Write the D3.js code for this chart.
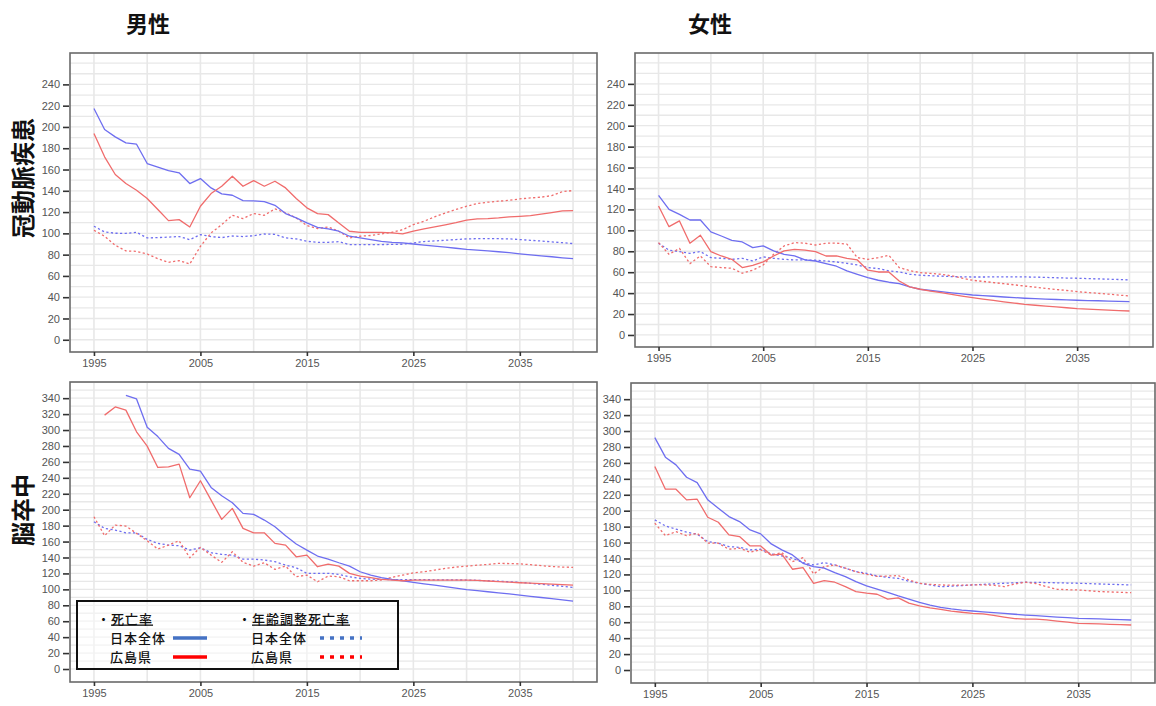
<!DOCTYPE html>
<html>
<head>
<meta charset="utf-8">
<script src="https://cdn.jsdelivr.net/npm/d3@7"></script>
<style>
  body { margin: 0; background: #fff; }
  svg { display: block; }
  .tick text { font-family: "Liberation Sans", Arial, sans-serif; font-size: 11px; fill: #555; }
  .tick line { stroke: #333; stroke-width: 1.6; }
</style>
</head>
<body>
<svg id="chart" width="1156" height="706"></svg>
<script>
// ---- data -------------------------------------------------------------
const years = d3.range(1995, 2041);
const xTickYears = [1995, 2005, 2015, 2025, 2035];
const chdTicks = d3.range(0, 241, 20);
const strokeTicks = d3.range(0, 341, 20);
const sexLabels = ["男性", "女性"];
const diseaseLabels = ["冠動脈疾患", "脳卒中"];
const legendHeads = ["死亡率", "年齢調整死亡率"];
const areaNames = ["日本全体", "広島県"];

// 冠動脈疾患・男性
const chdMaleJapanCrude = [217.4,197.6,190.7,185,183.8,165.6,162.2,159,156.9,146.8,
  151.5,142.7,137.1,135.8,130.8,130.5,129.9,126.4,118.6,114.5,
  109.8,105.7,104.2,102,97.3,95.7,94.1,92.5,91.6,91,
  90,89,88,87,86,85,84.3,83.5,82.7,81.8,
  80.8,79.8,78.9,78,77,76.2];
const chdMaleHiroCrude = [193.9,171.9,155.3,146.8,140.5,132.7,122.4,112,112.9,106,
  125.5,137.4,144.3,153.7,144.3,149.6,144.3,149,142.7,132.7,
  124,118.6,117.6,109.8,102,101,101,101,100.5,99.5,
  102,104.2,106,108,110,112.5,113.6,113.8,114.5,115.5,
  116,116.7,118,119.5,121.2,121.4];
const chdMaleJapanAdj = [106.7,101.3,100.1,100,101,95.7,96,96.5,97,94.1,
  98.8,97,96,97.5,97,97.8,99.4,99.1,95.7,94.8,
  92.5,91.6,91.6,92.2,89.4,89.4,89.4,89.5,89.6,89.8,
  91,92.3,92.9,93.5,94.2,94.8,95,95,95,94.8,
  94.2,93.5,92.8,92,91.2,90.4];
const chdMaleHiroAdj = [102.9,97.3,88.8,83.5,83.1,80.6,76.2,72.8,74.4,71.2,
  87.8,100.4,108.2,117,113.9,118.6,117,123,119.2,114.5,
  107.3,104.5,106,102,95.7,97.3,98,99.5,101,103.5,
  108.2,111.4,115.5,119.2,122.4,125.5,128,129.3,130.2,131,
  132.4,133.3,134,135.5,139.2,140.2];

// 冠動脈疾患・女性
const chdFemaleJapanCrude = [133.5,120.1,115.3,109.9,109.9,98.5,94.6,90.5,88.9,83.5,
  85.1,80.3,77.1,75.5,71.7,70.7,68.2,65.7,61.2,58,
  54.8,52.3,50.4,49,46,43.7,42.5,41.4,40.2,39.2,
  38.2,37.6,37,36.3,35.7,35.1,34.7,34.3,33.9,33.6,
  33.2,32.9,32.7,32.4,32.1,31.9];
const chdFemaleHiroCrude = [123.3,103.5,109,87.7,95.3,79.7,75.5,72.3,64.4,66.6,
  69.8,75.5,80.3,81.9,81,79.7,75.5,75.5,73.3,71.7,
  61.9,60.2,60.2,51.6,46,43.7,42,40.5,38.8,37.2,
  35.7,34.3,33,31.7,30.5,29.3,28.4,27.6,26.8,26,
  25.2,24.7,24.2,23.7,23.3,22.9];
const chdFemaleJapanAdj = [87.7,81,79.7,78,79.7,73.9,73.3,72.3,73.3,70.7,
  74.6,73.3,72.3,71.7,71.7,71.4,70.7,69.8,68.5,66.9,
  64.4,63.5,61.2,60.2,58,57.1,56.6,56.2,55.8,55.5,
  55.4,55.4,55.5,55.6,55.6,55.5,55.3,55,54.7,54.4,
  54.2,53.9,53.6,53.3,53,52.6];
const chdFemaleHiroAdj = [88.3,77.1,82.8,68.2,75.5,65.3,64.4,63.8,59,61.9,
  66.9,77.1,85.1,88.3,87.7,86,87.7,87.7,86.9,73.9,
  72.3,73.9,76.2,64.4,61.5,59.6,58.8,58,56.5,54.3,
  52.3,51.2,50.1,49,47.9,46.8,45.7,44.6,43.5,42.5,
  41.4,40.6,39.8,39,38.1,37.3];

// 脳卒中・男性
const strokeMaleJapanCrude = [null,null,null,343.4,339,303.5,291.8,277,269.5,251,
  248.5,228,217.5,208.7,195.4,194.1,187,178.6,167.3,156.9,
  149.3,141.8,138,133.4,129.2,122.1,117.9,114.6,112.5,110.8,
  108.8,107,105.4,103.5,101.5,99.6,98.3,97,95.6,94.2,
  92.8,91.3,89.8,88.3,86.8,85.3];
const strokeMaleHiroCrude = [null,318.7,329,325,297.8,279.8,253,253.8,257.2,215,
  236.3,212,187.8,201.6,176.5,171,171,157.7,155.6,140.9,
  143,128.4,131.7,129.2,120.1,116.7,114.6,112.5,111.7,110.8,
  111.7,111.7,111.7,111.7,111.7,111.7,111.2,110.5,109.8,109,
  108.3,107.7,107.1,106.5,106,105.4];
const strokeMaleJapanAdj = [184.8,176.5,174.4,171,171,162.7,157.7,155.6,154.8,149.3,
  152.2,146,143.9,143,138,138,136.8,134.7,130.5,127.1,
  120.1,120.1,120.1,118.8,115.8,113.8,112.8,112.5,112.3,112.2,
  112.2,112.1,112,111.9,111.8,111.7,111.3,110.8,110.2,109.5,
  108.8,107.6,106.4,105.1,103.8,102.5];
const strokeMaleHiroAdj = [191.2,167.3,180.7,179.4,170.3,161,150.6,155.6,161,139.7,
  152.7,143,133.9,147.2,133.9,129.2,133.4,125.1,129.2,115.8,
  117.9,109.5,116.7,115.8,110.8,110.8,110.8,111.7,115,117.9,
  120.8,122,124.2,126.3,128,129.2,130.3,131.3,132.6,132.4,
  132,131,129.8,128.6,128,127.6];

// 脳卒中・女性
const strokeFemaleJapanCrude = [291.8,267.2,257.5,242,235.3,213.6,203.1,192.6,186.3,175.9,
  170.9,158.3,150.8,144.5,134,129.8,127.8,122.2,117.2,110.9,
  105.5,101.5,97.5,93,89,85,81.5,78.7,76.8,75.3,
  74.1,73.1,72.1,71,70,69,68.2,67.4,66.5,65.7,
  64.9,64.5,64.1,63.6,63.2,62.8];
const strokeFemaleHiroCrude = [255.4,227,227,213.6,214.4,191.8,185.5,169.6,167.5,155.8,
  155.8,144.1,145.4,126.5,128.5,108.9,112.2,110.2,104.6,98.4,
  96.4,95.1,89,90.5,84,80.5,78,76.2,74,72.5,
  71.2,70.5,68.5,66.5,64.5,64,64,63,61.5,60,
  58.6,58.3,57.8,57.3,57,56.5];
const strokeFemaleJapanAdj = [188.4,180.9,176.8,173,170.5,161.2,159.2,154.9,154,150.8,
  151.6,145.7,143.2,140.3,134.8,131.9,134.8,131.9,127.8,123.5,
  121.4,118.1,116.4,115,111.5,108.9,106.8,104.6,105.3,106,
  106.8,107.5,108.2,108.9,109.5,110.2,110,109.8,109.5,109.2,
  108.9,108.5,108,107.6,107.2,106.8];
const strokeFemaleHiroAdj = [184.3,168.7,173.7,168.7,171.7,159.2,159.2,151.6,152.9,147.9,
  150.8,144.5,147.4,136,141.1,120.6,129.8,131.9,127.8,123.5,
  120.2,117.5,118,118.5,113,108.9,107.5,106.8,106.5,106.5,
  106.8,106.8,106.5,104.6,108,110.2,108.5,104.6,101.4,100.8,
  100.5,99.5,98.5,98,97.5,97.1];

// ---- styling ----------------------------------------------------------
const lineBlue = "#6e6ef0";
const lineRed = "#f06c6c";
const legendBlue = "#4472c4";
const legendRed = "#ff0000";
const gridColor = "#e8e8e8";
const jpFont = "'Noto Sans CJK JP', 'Noto Sans', sans-serif";

const svg = d3.select("#chart");

const panels = [
  { box: [70, 53, 597, 352], yDomain: [-11.5, 269.5], yTicks: chdTicks, gridMax: 260,
    series: [chdMaleJapanAdj, chdMaleHiroAdj, chdMaleJapanCrude, chdMaleHiroCrude] },
  { box: [635, 53, 1153, 347], yDomain: [-11.5, 269.5], yTicks: chdTicks, gridMax: 260,
    series: [chdFemaleJapanAdj, chdFemaleHiroAdj, chdFemaleJapanCrude, chdFemaleHiroCrude] },
  { box: [70, 382, 597, 682], yDomain: [-16.3, 360.3], yTicks: strokeTicks, gridMax: 360,
    series: [strokeMaleJapanAdj, strokeMaleHiroAdj, strokeMaleJapanCrude, strokeMaleHiroCrude] },
  { box: [631, 383, 1155, 683], yDomain: [-16.3, 360.3], yTicks: strokeTicks, gridMax: 360,
    series: [strokeFemaleJapanAdj, strokeFemaleHiroAdj, strokeFemaleJapanCrude, strokeFemaleHiroCrude] }
];
// colour / dash for the four series in each panel: 日本全体(調整), 広島県(調整), 日本全体, 広島県
const seriesStyle = [
  { color: lineBlue, dash: "2.2,2.4" },
  { color: lineRed, dash: "2.2,2.4" },
  { color: lineBlue, dash: null },
  { color: lineRed, dash: null }
];

panels.forEach(p => {
  const [x0, y0, x1, y1] = p.box;
  const x = d3.scaleLinear().domain([1992.75, 2042.25]).range([x0, x1]);
  const y = d3.scaleLinear().domain(p.yDomain).range([y1, y0]);
  const g = svg.append("g");

  g.append("rect").attr("x", x0).attr("y", y0).attr("width", x1 - x0).attr("height", y1 - y0)
    .attr("fill", "#fff");

  // grid
  g.append("g").selectAll("line").data(d3.range(0, p.gridMax + 1, 10)).join("line")
    .attr("x1", x0).attr("x2", x1)
    .attr("y1", d => y(d)).attr("y2", d => y(d))
    .attr("stroke", gridColor).attr("stroke-width", 1.3);
  g.append("g").selectAll("line").data(d3.range(1995, 2041, 5)).join("line")
    .attr("x1", d => x(d)).attr("x2", d => x(d))
    .attr("y1", y0).attr("y2", y1)
    .attr("stroke", gridColor).attr("stroke-width", 1.6);

  // series
  const line = d3.line()
    .defined(d => d[1] != null)
    .x(d => x(d[0])).y(d => y(d[1]));
  p.series.forEach((vals, i) => {
    const st = seriesStyle[i];
    g.append("path")
      .datum(years.map((yr, k) => [yr, vals[k]]))
      .attr("d", line)
      .attr("fill", "none")
      .attr("stroke", st.color)
      .attr("stroke-width", 1.3)
      .attr("stroke-dasharray", st.dash)
      .attr("stroke-linejoin", "round");
  });

  // frame
  g.append("rect").attr("x", x0).attr("y", y0).attr("width", x1 - x0).attr("height", y1 - y0)
    .attr("fill", "none").attr("stroke", "#6a6a6a").attr("stroke-width", 1.6);

  // axes
  const ax = g.append("g").attr("transform", `translate(0,${y1})`)
    .call(d3.axisBottom(x).tickValues(xTickYears).tickFormat(d3.format("d")).tickSize(4).tickPadding(3));
  const ay = g.append("g").attr("transform", `translate(${x0 - 1},0)`)
    .call(d3.axisLeft(y).tickValues(p.yTicks).tickSize(6).tickPadding(3));
  ax.select(".domain").remove();
  ay.select(".domain").remove();
});

// column titles
svg.selectAll(".coltitle").data(sexLabels).join("text")
  .attr("x", (d, i) => [148, 710][i]).attr("y", 32)
  .attr("text-anchor", "middle")
  .attr("font-family", jpFont).attr("font-weight", "bold").attr("font-size", 22)
  .attr("fill", "#111").text(d => d);

// row titles
svg.selectAll(".rowtitle").data(diseaseLabels).join("text")
  .attr("transform", (d, i) => `translate(32,${[178, 510][i]}) rotate(-90)`)
  .attr("text-anchor", "middle")
  .attr("font-family", jpFont).attr("font-weight", "bold").attr("font-size", 24)
  .attr("fill", "#111").text(d => d);

// legend: a heading and two area rows per column, with a line swatch per area
const lg = svg.append("g");
lg.append("rect").attr("x", 77).attr("y", 601).attr("width", 321).attr("height", 68)
  .attr("fill", "#fff").attr("fill-opacity", 0.45)
  .attr("stroke", "#111").attr("stroke-width", 2);

const legendCols = [
  { headX: 97, nameX: 110, swX: [173, 207], dash: null },
  { headX: 238, nameX: 251, swX: [320, 362], dash: "4,6" }
];
const rowY = [623.5, 642.5, 661.5];
const legendText = (sel) => sel
  .attr("font-family", jpFont).attr("font-size", 13).attr("font-weight", 500)
  .attr("letter-spacing", 1).attr("fill", "#111");
legendCols.forEach((c, ci) => {
  const head = lg.append("text").attr("x", c.headX).attr("y", rowY[0]).call(legendText);
  head.append("tspan").text("・");
  head.append("tspan").attr("text-decoration", "underline").text(legendHeads[ci]);
  areaNames.forEach((nm, ri) => {
    const yy = rowY[ri + 1];
    lg.append("text").attr("x", c.nameX).attr("y", yy).call(legendText).text(nm);
    lg.append("line")
      .attr("x1", c.swX[0]).attr("x2", c.swX[1])
      .attr("y1", yy - 4.5).attr("y2", yy - 4.5)
      .attr("stroke", ri === 0 ? legendBlue : legendRed)
      .attr("stroke-width", 3.5)
      .attr("stroke-dasharray", c.dash);
  });
});
</script>
</body>
</html>
